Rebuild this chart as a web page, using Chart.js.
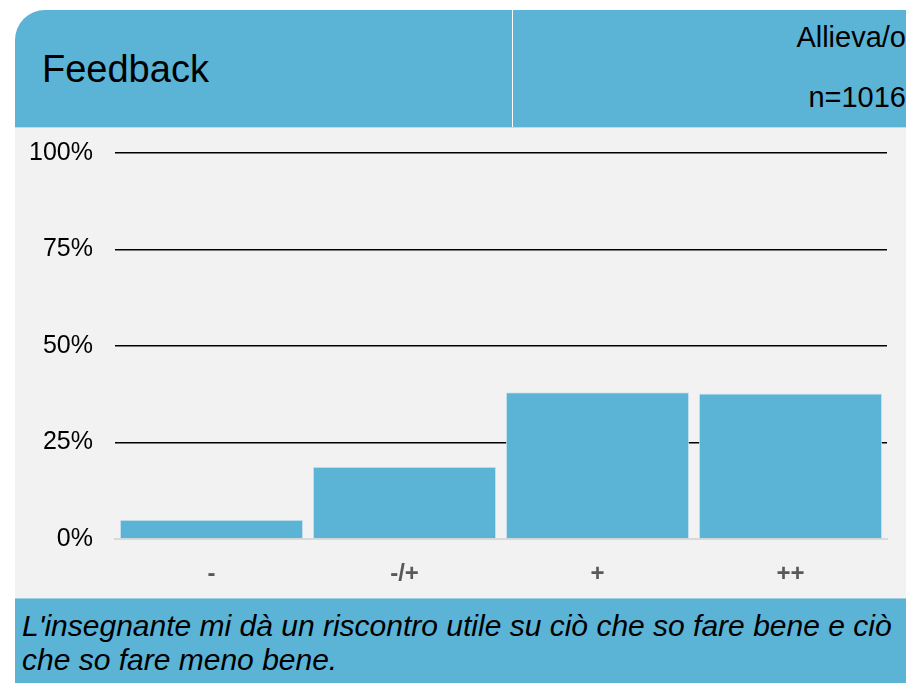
<!DOCTYPE html>
<html>
<head>
<meta charset="utf-8">
<script src="https://cdn.jsdelivr.net/npm/chart.js@4.4.1/dist/chart.umd.min.js"></script>
<style>
  html, body { margin:0; padding:0; background:#ffffff; width:906px; height:683px; overflow:hidden; font-family:"Liberation Sans", Arial, sans-serif; }
  .abs { position:absolute; }
  #header { left:15px; top:10px; width:891px; height:117px; background:#5bb3d6; border-top-left-radius:30px; }
  #divider { left:512px; top:10px; width:1px; height:117px; background:#ffffff; }
  #hline { left:15px; top:127px; width:891px; height:1px; background:#d4d4d4; }
  #title { left:42px; top:50px; font-size:38px; line-height:38px; color:#000; white-space:nowrap; }
  .right { right:0px; font-size:29px; line-height:29px; color:#000; text-align:right; white-space:nowrap; }
  #plotbg { left:15px; top:128px; width:891px; height:470px; background:#f2f2f2; }
  #chartwrap { left:15px; top:128px; width:891px; height:470px; }
  #footer { left:15px; top:598px; width:891px; height:85px; background:#5bb3d6; border-top:1px solid #9fcfe2; }
  #question { left:22px; top:609px; width:884px; font-size:30px; line-height:34px; font-style:italic; color:#000; }
</style>
</head>
<body>
<div id="header" class="abs"></div>
<div id="divider" class="abs"></div>
<div id="hline" class="abs"></div>
<div id="title" class="abs">Feedback</div>
<div id="group" class="abs right" style="top:23px;">Allieva/o</div>
<div id="count" class="abs right" style="top:83px;">n=1016</div>
<div id="plotbg" class="abs"></div>
<div id="chartwrap" class="abs"><canvas id="c" width="891" height="470"></canvas></div>
<div id="footer" class="abs"></div>
<div id="question" class="abs">L'insegnante mi dà un riscontro utile su ciò che so fare bene e ciò che so fare meno bene.</div>
<script>
const categories = ['-', '-/+', '+', '++'];
const percentages = [5.0, 18.7, 38.0, 37.7];
const yTicks = [0, 25, 50, 75, 100];

const ctx = document.getElementById('c').getContext('2d');
new Chart(ctx, {
  type: 'bar',
  data: {
    labels: categories,
    datasets: [{
      data: percentages,
      backgroundColor: '#5bb3d6',
      borderColor: '#d3e6ee',
      borderWidth: 1,
      barPercentage: 0.95,
      categoryPercentage: 1.0
    }]
  },
  options: {
    responsive: false,
    devicePixelRatio: 1,
    animation: false,
    layout: { padding: { left: 0, right: 19, top: 25, bottom: 0 } },
    plugins: { legend: { display: false }, tooltip: { enabled: false } },
    scales: {
      x: {
        grid: { display: false },
        border: { display: true, color: '#d9d9d9', width: 2 },
        ticks: {
          color: '#595959',
          padding: 13,
          font: { family: 'Liberation Sans', size: 24, weight: 'bold' }
        },
        afterFit: (s) => { s.height = 59; }
      },
      y: {
        min: 0, max: 100,
        afterBuildTicks: (s) => { s.ticks = yTicks.map(v => ({ value: v })); },
        grid: {
          drawTicks: false,
          color: (c) => c.tick && c.tick.value === 0 ? 'rgba(0,0,0,0)' : '#000000',
          lineWidth: 1.5
        },
        border: { display: false },
        ticks: {
          color: '#000000',
          padding: 22,
          font: { family: 'Liberation Sans', size: 25 },
          callback: (v) => v + '%'
        },
        afterFit: (s) => { s.width = 100; s.paddingTop = 10; s.paddingBottom = 10; }
      }
    }
  }
});
</script>
</body>
</html>
